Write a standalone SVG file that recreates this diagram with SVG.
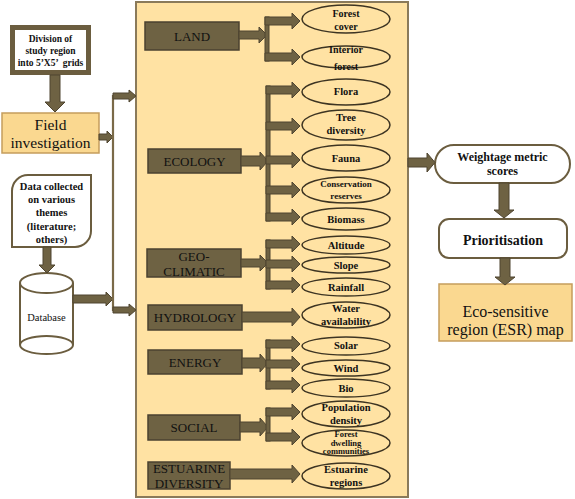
<svg xmlns="http://www.w3.org/2000/svg" width="575" height="499" viewBox="0 0 575 499">
<style>
.t{fill:#111;text-anchor:middle}
.b{font-weight:bold}
.cat{fill:#6e6243;stroke:#4b4231;stroke-width:1.5}
.arr{fill:#6e6243;stroke:#4e4430;stroke-width:1}
.ell{fill:none;stroke:#3d3422;stroke-width:1.5}
.wb{fill:#fff;stroke:#6b5d3f;stroke-width:2}
.ob{fill:#FAD890;stroke:#C59D5C;stroke-width:1.5}
</style>
<rect width="575" height="499" fill="#fff"/>
<g font-family="'Liberation Serif', 'Times New Roman', 'DejaVu Serif', serif">
<g id="panel"><rect x="136" y="2" width="272" height="495" fill="#FFE2A3" stroke="#8a7a5a" stroke-width="2"/></g>

<g id="division"><rect x="12.5" y="27.5" width="76" height="45" fill="#fff" stroke="#6b5d3f" stroke-width="5"/>
<text class="t b" font-size="9.5" x="50.5" y="42">Division of</text>
<text class="t b" font-size="9.5" x="50.5" y="54">study region</text>
<text class="t b" font-size="9.5" x="50.5" y="66" xml:space="preserve">into 5’X5’  grids</text></g>

<g id="field"><rect x="2" y="113" width="97" height="40" class="ob"/>
<text class="t" font-size="15.5" x="50.5" y="130">Field</text>
<text class="t" font-size="15.5" x="50.5" y="148">investigation</text></g>

<g id="data"><path d="M28 175 H91 V231 A16 16 0 0 1 75 247 H12 V191 A16 16 0 0 1 28 175 Z" class="wb"/>
<text class="t b" font-size="10.5" x="51.5" y="190">Data collected</text>
<text class="t b" font-size="10.5" x="51.5" y="203">on various</text>
<text class="t b" font-size="10.5" x="51.5" y="216">themes</text>
<text class="t b" font-size="10.5" x="51.5" y="229.5">(literature;</text>
<text class="t b" font-size="10.5" x="51.5" y="243">others)</text></g>

<g id="database">
<path d="M20 283 V345 A26.5 9 0 0 0 73 345 V283" class="wb"/>
<path d="M20 345 A26.5 9 0 0 1 73 345" fill="none" stroke="#6b5d3f" stroke-width="2"/>
<ellipse cx="46.5" cy="283" rx="26.5" ry="10" class="wb"/>
<text class="t" font-size="10.5" x="46.5" y="321">Database</text></g>

<g id="land"><rect x="145" y="22" width="94" height="28" class="cat"/><text class="t" font-size="13" x="192" y="41">LAND</text></g>
<g id="ecology"><rect x="148" y="149" width="93" height="24" class="cat"/><text class="t" font-size="13" x="194.5" y="166">ECOLOGY</text></g>
<g id="geo"><rect x="147" y="249" width="94" height="28" class="cat"/><text class="t" font-size="13" x="194" y="261">GEO-</text><text class="t" font-size="13" x="194" y="276">CLIMATIC</text></g>
<g id="hydro"><rect x="148" y="305" width="94" height="25" class="cat"/><text class="t" font-size="13" x="195" y="322">HYDROLOGY</text></g>
<g id="energy"><rect x="148" y="350" width="94" height="24" class="cat"/><text class="t" font-size="13" x="195" y="367">ENERGY</text></g>
<g id="social"><rect x="148" y="415" width="92" height="25" class="cat"/><text class="t" font-size="13" x="194" y="432">SOCIAL</text></g>
<g id="estuarine"><rect x="148" y="462" width="82" height="27" class="cat"/><text class="t" font-size="13" x="189" y="473">ESTUARINE</text><text class="t" font-size="13" x="189" y="488">DIVERSITY</text></g>

<g id="e-forest-cover"><ellipse cx="346" cy="19" rx="44" ry="14" class="ell"/><text class="t b" font-size="10" x="346" y="17">Forest</text><text class="t b" font-size="10" x="346" y="30">cover</text></g>
<g id="e-interior"><ellipse cx="346" cy="57" rx="44" ry="11" class="ell"/><text class="t b" font-size="10" x="346" y="53">Interior</text><text class="t b" font-size="10" x="346" y="70">forest</text></g>
<g id="e-flora"><ellipse cx="346" cy="92" rx="44" ry="13" class="ell"/><text class="t b" font-size="10.5" x="346" y="95">Flora</text></g>
<g id="e-tree"><ellipse cx="346" cy="125" rx="44" ry="15" class="ell"/><text class="t b" font-size="10.5" x="346" y="121">Tree</text><text class="t b" font-size="10.5" x="346" y="134">diversity</text></g>
<g id="e-fauna"><ellipse cx="346" cy="158" rx="44" ry="13" class="ell"/><text class="t b" font-size="10.5" x="346" y="162">Fauna</text></g>
<g id="e-conservation"><ellipse cx="346" cy="190" rx="44" ry="13" class="ell"/><text class="t b" font-size="9" x="346" y="187">Conservation</text><text class="t b" font-size="9" x="346" y="199">reserves</text></g>
<g id="e-biomass"><ellipse cx="346" cy="219" rx="44" ry="11" class="ell"/><text class="t b" font-size="10.5" x="346" y="222.5">Biomass</text></g>
<g id="e-altitude"><ellipse cx="346" cy="245" rx="44" ry="9" class="ell"/><text class="t b" font-size="10.5" x="346" y="249">Altitude</text></g>
<g id="e-slope"><ellipse cx="346" cy="265" rx="44" ry="8" class="ell"/><text class="t b" font-size="10.5" x="346" y="268.5">Slope</text></g>
<g id="e-rainfall"><ellipse cx="346" cy="287" rx="44" ry="9" class="ell"/><text class="t b" font-size="10.5" x="346" y="290.5">Rainfall</text></g>
<g id="e-water"><ellipse cx="346" cy="315" rx="44" ry="13" class="ell"/><text class="t b" font-size="10.5" x="346" y="312">Water</text><text class="t b" font-size="10.5" x="346" y="324.5">availability</text></g>
<g id="e-solar"><ellipse cx="346" cy="346" rx="44" ry="9" class="ell"/><text class="t b" font-size="10.5" x="346" y="349">Solar</text></g>
<g id="e-wind"><ellipse cx="346" cy="368" rx="44" ry="8" class="ell"/><text class="t b" font-size="10.5" x="346" y="372">Wind</text></g>
<g id="e-bio"><ellipse cx="346" cy="388" rx="44" ry="9" class="ell"/><text class="t b" font-size="10.5" x="346" y="391.5">Bio</text></g>
<g id="e-population"><ellipse cx="346" cy="414" rx="44" ry="13" class="ell"/><text class="t b" font-size="10.5" x="346" y="411">Population</text><text class="t b" font-size="10.5" x="346" y="423.5">density</text></g>
<g id="e-dwelling"><ellipse cx="346" cy="443" rx="44" ry="13" class="ell"/><text class="t b" font-size="8.5" x="346" y="437">Forest</text><text class="t b" font-size="8.5" x="346" y="445.5">dwelling</text><text class="t b" font-size="8.5" x="346" y="454">communities</text></g>
<g id="e-estuarine"><ellipse cx="346" cy="476" rx="44" ry="13" class="ell"/><text class="t b" font-size="10.5" x="346" y="473">Estuarine</text><text class="t b" font-size="10.5" x="346" y="486">regions</text></g>

<g id="weightage"><rect x="435" y="145" width="135" height="38" rx="19" class="wb" stroke-width="1.5"/><text class="t b" font-size="12" x="502.5" y="161">Weightage metric</text><text class="t b" font-size="12" x="502.5" y="175">scores</text></g>
<g id="prioritisation"><rect x="439" y="219" width="128" height="39" rx="10" class="wb" stroke-width="1.5"/><text class="t b" font-size="14" x="503" y="245">Prioritisation</text></g>
<g id="esr"><rect x="439" y="284" width="133" height="57" class="ob"/><text class="t" font-size="16" x="505.5" y="317">Eco-sensitive</text><text class="t" font-size="16" x="505.5" y="335">region (ESR) map</text></g>
</g>

<g id="connectors">
<path class="arr" d="M50 75 V102 H45 L55 112 L65 102 H60 V75 Z"/>
<path class="arr" d="M43 247 V265 H39 L47 273 L55 265 H51 V247 Z"/>
<path class="arr" d="M99 134 H107 V131 L113 137 L107 143 V140 H99 Z"/>
<path class="arr" d="M73 295 H106 V292 L113 299 L106 306 V303 H73 Z"/>
<line x1="113" y1="95" x2="113" y2="311" stroke="#7a6a48" stroke-width="2.2"/>
<path class="arr" d="M113 93 H129 V90 L136 96 L129 102 V99 H113 Z"/>
<path class="arr" d="M113 307 H129 V304 L136 310 L129 316 V313 H113 Z"/>
<path class="arr" d="M239 31 H259 V27 L267 35 L259 43 V39 H239 Z"/>
<rect class="arr" x="265" y="17" width="4" height="44"/>
<path class="arr" d="M265 17 H292 V13 L300 21 L292 29 V25 H265 Z"/>
<path class="arr" d="M265 53 H292 V49 L300 57 L292 65 V61 H265 Z"/>
<path class="arr" d="M241 156 H260 V152 L268 161 L260 170 V166 H241 Z"/>
<rect class="arr" x="266" y="86" width="4" height="135"/>
<path class="arr" d="M266 86 H292 V82 L300 90 L292 98 V94 H266 Z"/>
<path class="arr" d="M266 122 H292 V118 L300 126 L292 134 V130 H266 Z"/>
<path class="arr" d="M266 156 H292 V152 L300 160 L292 168 V164 H266 Z"/>
<path class="arr" d="M266 186 H292 V182 L300 190 L292 198 V194 H266 Z"/>
<path class="arr" d="M266 213 H292 V209 L300 217 L292 225 V221 H266 Z"/>
<path class="arr" d="M241 259 H260 V255 L268 263 L260 271 V267 H241 Z"/>
<rect class="arr" x="266" y="240" width="4" height="49"/>
<path class="arr" d="M266 240 H292 V236 L300 244 L292 252 V248 H266 Z"/>
<path class="arr" d="M266 260 H292 V256 L300 264 L292 272 V268 H266 Z"/>
<path class="arr" d="M266 281 H292 V277 L300 285 L292 293 V289 H266 Z"/>
<path class="arr" d="M242 312 H292 V308 L300 317 L292 326 V322 H242 Z"/>
<path class="arr" d="M242 358 H260 V354 L268 363 L260 372 V368 H242 Z"/>
<rect class="arr" x="266" y="340" width="4" height="49"/>
<path class="arr" d="M266 340 H292 V336 L300 344 L292 352 V348 H266 Z"/>
<path class="arr" d="M266 360 H292 V356 L300 364 L292 372 V368 H266 Z"/>
<path class="arr" d="M266 381 H292 V377 L300 385 L292 393 V389 H266 Z"/>
<path class="arr" d="M240 422 H260 V418 L268 427 L260 436 V432 H240 Z"/>
<rect class="arr" x="266" y="408" width="4" height="33"/>
<path class="arr" d="M266 408 H292 V404 L300 412 L292 420 V416 H266 Z"/>
<path class="arr" d="M266 433 H292 V429 L300 437 L292 445 V441 H266 Z"/>
<path class="arr" d="M230 469 H292 V465 L300 474 L292 483 V479 H230 Z"/>
<path class="arr" d="M408 158 H427 V153 L435 162.5 L427 172 V167 H408 Z"/>
<path class="arr" d="M499 183 V210 H494 L504 218 L514 210 H509 V183 Z"/>
<path class="arr" d="M500 258 V277 H495 L505 285 L515 277 H510 V258 Z"/>
</g>
</svg>
